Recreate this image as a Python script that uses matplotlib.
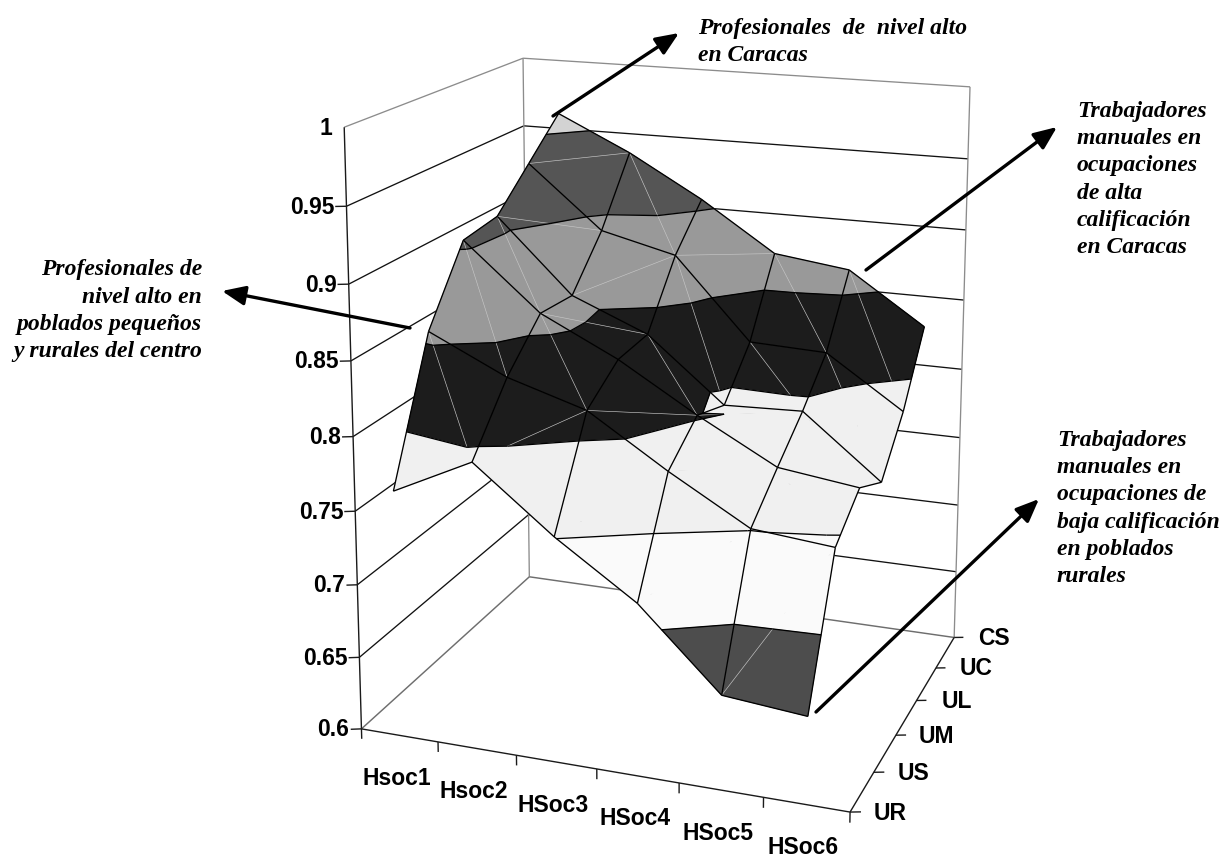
import numpy as np
import matplotlib
matplotlib.use('Agg')
import matplotlib.pyplot as plt
from mpl_toolkits.mplot3d.art3d import Poly3DCollection, Line3DCollection

W, H = 1226, 861
SANS = 'Liberation Sans'
SERIF = 'Liberation Serif'

x_labels = ['Hsoc1', 'Hsoc2', 'HSoc3', 'HSoc4', 'HSoc5', 'HSoc6']
y_labels = ['UR', 'US', 'UM', 'UL', 'UC', 'CS']
z_ticks = [0.6, 0.65, 0.7, 0.75, 0.8, 0.85, 0.9, 0.95, 1]
z_tick_labels = ['0.6', '0.65', '0.7', '0.75', '0.8', '0.85', '0.9', '0.95', '1']

# one row per y label (UR first), one column per x label
z_values = np.array([
    [0.767, 0.793, 0.751, 0.715, 0.663, 0.658],
    [0.857, 0.832, 0.816, 0.782, 0.751, 0.746],
    [0.905, 0.860, 0.834, 0.802, 0.773, 0.766],
    [0.909, 0.858, 0.836, 0.792, 0.794, 0.751],
    [0.935, 0.891, 0.878, 0.821, 0.819, 0.783],
    [0.961, 0.936, 0.906, 0.871, 0.864, 0.828],
])

# which diagonal splits each cell: A = low corner to high corner, B = the other one
cell_split = [
    'BAAAA',
    'BBAAB',
    'BABAB',
    'AABBB',
    'ABABB',
]

band_levels = [0.5, 0.7, 0.75, 0.8, 0.85, 0.9, 0.95, 1.1]
band_colors = ['#4d4d4d', '#fafafa', '#f0f0f0', '#1c1c1c', '#999999', '#555555', '#d3d3d3']

notes = [
    ('Profesionales  de  nivel alto\nen Caracas', 698, 61, 'left'),
    ('Trabajadores\nmanuales en\nocupaciones\nde alta\ncalificación\nen Caracas', 1077, 253, 'left'),
    ('Profesionales de\nnivel alto en\npoblados pequeños\ny rurales del centro', 202, 357, 'right'),
    ('Trabajadores\nmanuales en\nocupaciones de\nbaja calificación\nen poblados\nrurales', 1057, 582, 'left'),
]
arrows = [
    ((553, 116), (679, 33)),
    ((866, 270), (1057, 127)),
    ((410, 328), (222, 291)),
    ((816, 712), (1039, 499)),
]

# frame corners and ticks of the picture, used to fit the perspective of the box
calib_3d = [(0, 0, 0.6), (6, 0, 0.6), (6, 5, 0.6), (0, 5, 0.6), (0, 0, 1), (0, 5, 1), (6, 5, 1),
            (3, 0, 0.6), (6, 3, 0.6), (0, 0, 0.7), (0, 0, 0.65), (6, 5, 0.8), (6, 5, 0.95), (0, 5, 0.95)]
calib_px = [(362, 729), (850, 812), (954, 637), (529, 577), (344, 127), (523, 58), (970, 88),
            (596, 769), (917, 701), (357, 585), (360, 657), (962, 369), (968, 158), (524, 126)]


def fit_camera(pts3, pts2):
    rows, rhs = [], []
    for (x, y, z), (u, v) in zip(pts3, pts2):
        rows.append([x, y, z, 1, 0, 0, 0, 0, -u * x, -u * y, -u * z])
        rows.append([0, 0, 0, 0, x, y, z, 1, -v * x, -v * y, -v * z])
        rhs += [u, v]
    p = np.linalg.lstsq(np.array(rows, float), np.array(rhs, float), rcond=None)[0]
    p = np.append(p, 1).reshape(3, 4)
    # 4x4 for mplot3d: third row is only used as a back-to-front sort key
    return np.array([p[0], p[1], [0, 1, 0, 0], p[2]])


M = fit_camera(calib_3d, calib_px)


def project(x, y, z):
    q = M @ np.array([x, y, z, 1.0])
    return q[0] / q[3], q[1] / q[3]


def clip_band(tri, lo, hi):
    poly = [np.array(p) for p in tri]
    for level, sign in ((lo, 1), (hi, -1)):
        out = []
        for k in range(len(poly)):
            a, b = poly[k], poly[(k + 1) % len(poly)]
            da, db = sign * (a[2] - level), sign * (b[2] - level)
            if da >= 0:
                out.append(a)
            if da * db < 0:
                out.append(a + (b - a) * da / (da - db))
        poly = out
        if not poly:
            break
    return poly


def contour_segment(tri, level):
    pts = []
    for k in range(3):
        a, b = np.array(tri[k]), np.array(tri[(k + 1) % 3])
        if (a[2] - level) * (b[2] - level) < 0:
            pts.append(a + (b - a) * (level - a[2]) / (b[2] - a[2]))
    return pts if len(pts) == 2 else None


def dark_parts(a, b):
    # the seam only shows on the dark bands, not on the two near-white ones
    a, b = np.array(a), np.array(b)
    ts = [0.0, 1.0]
    for level in (0.7, 0.8):
        if (a[2] - level) * (b[2] - level) < 0:
            ts.append((level - a[2]) / (b[2] - a[2]))
    ts.sort()
    parts = []
    for t0, t1 in zip(ts[:-1], ts[1:]):
        mid = a + (b - a) * (t0 + t1) / 2
        if not 0.7 < mid[2] < 0.8:
            parts.append((a + (b - a) * t0, a + (b - a) * t1))
    return parts


def vertex(i, j):
    return (i + 0.5, j, z_values[j][i])


triangles, seams = [], []
for j in range(5):
    for i in range(5):
        p00, p10, p01, p11 = vertex(i, j), vertex(i + 1, j), vertex(i, j + 1), vertex(i + 1, j + 1)
        if cell_split[j][i] == 'A':
            triangles += [(p00, p10, p11), (p00, p11, p01)]
            seams += dark_parts(p00, p11)
        else:
            triangles += [(p00, p10, p01), (p10, p11, p01)]
            seams += dark_parts(p10, p01)

polys, colors = [], []
for tri in triangles:
    for k, col in enumerate(band_colors):
        piece = clip_band(tri, band_levels[k], band_levels[k + 1])
        if len(piece) >= 3:
            polys.append(np.array(piece))
            colors.append(col)

surface_lines = []
for j in range(6):
    for i in range(6):
        if i < 5:
            surface_lines.append((vertex(i, j), vertex(i + 1, j)))
        if j < 5:
            surface_lines.append((vertex(i, j), vertex(i, j + 1)))
for tri in triangles:
    for level in band_levels[1:-1]:
        seg = contour_segment(tri, level)
        if seg:
            surface_lines.append(seg)

grid_lines = []
for z in z_ticks[1:-1]:
    grid_lines += [((0, 0, z), (0, 5, z)), ((0, 5, z), (6, 5, z))]
frame_top = [((0, 0, 1), (0, 5, 1)), ((0, 5, 1), (6, 5, 1)), ((0, 5, 0.6), (0, 5, 1)), ((6, 5, 0.6), (6, 5, 1))]
frame_floor = [((0, 0, 0.6), (0, 5, 0.6)), ((0, 5, 0.6), (6, 5, 0.6))]
axis_lines = [((0, 0, 0.6), (6, 0, 0.6)), ((6, 0, 0.6), (6, 5, 0.6)), ((0, 0, 0.6), (0, 0, 1))]
for k in range(7):
    axis_lines.append(((k, 0, 0.6), (k, 0, 0.593)))
for k in range(6):
    axis_lines.append(((6, k, 0.6), (6.112, k + 0.045, 0.6)))
for z in z_ticks[:-1]:
    axis_lines.append(((0, 0, z), (-0.114, -0.053, z)))

fig = plt.figure(figsize=(W / 100, H / 100), dpi=100)
fig.patch.set_facecolor('white')

left = (W - H) / 2
ax = fig.add_axes([left / W, 0, H / W, 1], projection='3d', computed_zorder=False)
ax.set_axis_off()
ax.set_xticks([])
ax.set_yticks([])
ax.set_zticks([])
ax.get_proj = lambda: M
ax.viewLim.intervalx = (left, left + H)
ax.viewLim.intervaly = (H, 0)

ax.add_collection3d(Line3DCollection(grid_lines, colors='#111111', linewidths=0.95, zorder=1))
ax.add_collection3d(Line3DCollection(frame_top, colors='#8c8c8c', linewidths=0.95, zorder=1))
ax.add_collection3d(Line3DCollection(frame_floor, colors='#6e6e6e', linewidths=1.05, zorder=1))
ax.add_collection3d(Line3DCollection(axis_lines, colors='#1a1a1a', linewidths=1.0, zorder=2))

surf = Poly3DCollection(polys, facecolors=colors, edgecolors=colors, linewidths=0.4, zorder=3)
ax.add_collection3d(surf)
ax.add_collection3d(Line3DCollection(seams, colors='#c4c4c4', linewidths=0.45, zorder=4))
ax.add_collection3d(Line3DCollection(surface_lines, colors='black', linewidths=0.95, zorder=5))

# tick labels and notes sit on a flat layer in picture coordinates
ov = fig.add_axes([0, 0, 1, 1])
ov.set_xlim(0, W)
ov.set_ylim(H, 0)
ov.set_axis_off()
ov.set_xticks([])
ov.set_yticks([])

tick_font = dict(family=SANS, weight='bold', fontsize=16.5)
for k, label in enumerate(x_labels):
    px, py = project(k + 0.5, 0, 0.6)
    ov.text(px - 3, py + 43, label, ha='center', va='center', **tick_font)
for k, label in enumerate(y_labels):
    px, py = project(6, k, 0.6)
    ov.text(px + 40, py + 1, label, ha='center', va='center', **tick_font)
for z, label in zip(z_ticks, z_tick_labels):
    px, py = project(0, 0, z)
    ov.text(px - 12, py + 1, label, ha='right', va='center', **tick_font)

for text, tx, ty, ha in notes:
    ov.text(tx, ty, text, family=SERIF, style='italic', weight='bold', fontsize=17,
            ha=ha, va='baseline', linespacing=1.39)
for tail, tip in arrows:
    ov.annotate('', xy=tip, xytext=tail,
                arrowprops=dict(arrowstyle='-|>,head_length=1.0,head_width=0.42', mutation_scale=14,
                                color='black', lw=2.4, shrinkA=0, shrinkB=0))

fig.savefig('out.png', dpi=100)
